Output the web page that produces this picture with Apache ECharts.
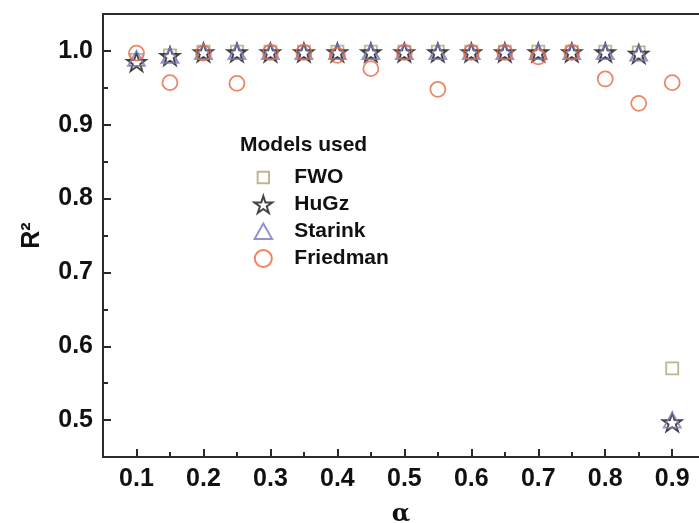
<!DOCTYPE html>
<html>
<head>
<meta charset="utf-8">
<script src="https://cdn.jsdelivr.net/npm/echarts@6/dist/echarts.min.js"></script>
<style>
html,body{margin:0;padding:0;background:#fff;}
#c{width:699px;height:523px;}
</style>
</head>
<body>
<div id="c"></div>
<script>
// ---- data ----
const alpha = [0.1, 0.15, 0.2, 0.25, 0.3, 0.35, 0.4, 0.45, 0.5, 0.55, 0.6, 0.65, 0.7, 0.75, 0.8, 0.85, 0.9];
const fwo      = [0.988, 0.994, 0.999, 0.999, 0.999, 0.999, 0.999, 0.999, 0.999, 0.999, 0.999, 0.999, 0.999, 0.999, 0.999, 0.998, 0.570];
const hugz     = [0.985, 0.993, 0.998, 0.998, 0.998, 0.998, 0.998, 0.998, 0.998, 0.998, 0.998, 0.998, 0.998, 0.998, 0.998, 0.996, 0.497];
const starink  = [0.990, 0.994, 0.999, 0.999, 0.999, 0.999, 0.999, 0.999, 0.999, 0.999, 0.999, 0.999, 0.999, 0.999, 0.999, 0.997, 0.500];
const friedman = [0.997, 0.957, 0.997, 0.956, 0.998, 0.998, 0.994, 0.976, 0.998, 0.948, 0.998, 0.998, 0.992, 0.998, 0.962, 0.929, 0.957];
const seriesNames = ['FWO', 'HuGz', 'Starink', 'Friedman'];
const xMajor = [0.1, 0.2, 0.3, 0.4, 0.5, 0.6, 0.7, 0.8, 0.9];
const xMinor = [0.15, 0.25, 0.35, 0.45, 0.55, 0.65, 0.75, 0.85];
const yMajor = [0.5, 0.6, 0.7, 0.8, 0.9, 1.0];
const yMinor = [0.55, 0.65, 0.75, 0.85, 0.95];
const legendTitle = 'Models used';
const xName = 'α';
const yName = 'R²';

// ---- styling ----
const FONT = 'Liberation Sans, Arial, sans-serif';
const AX = '#2a2a2a';
const STAR = 'path://M50,0 L61.2,34.5 L97.6,34.5 L68.2,55.9 L79.4,90.5 L50,69.1 L20.6,90.5 L31.8,55.9 L2.4,34.5 L38.8,34.5 Z';
const SQUARE_ICON = 'path://M-3,-3 M0,0 L12,0 L12,12 L0,12 Z M15,15';
const TRI_ICON = 'path://M-0.5,-0.5 M8,0 L16,14 L0,14 Z M16.5,15';
const zip = arr => alpha.map((a, i) => [a, arr[i]]);
const clear = 'rgba(0,0,0,0)';

const gridPos = {left: 103, top: 14, right: 0, bottom: 66, outerBoundsMode: 'none'};
const xBase = {type: 'value', min: 0.05, max: 0.94, splitLine: {show: false}};
const yBase = {type: 'value', min: 0.45, max: 1.05, splitLine: {show: false}};

const chart = echarts.init(document.getElementById('c'), null, {renderer: 'canvas'});
chart.setOption({
  backgroundColor: '#fff',
  animation: false,
  title: {
    text: legendTitle, left: 235, top: 130,
    textStyle: {fontFamily: FONT, fontWeight: 'bold', fontSize: 21, color: '#111'}
  },
  legend: {
    orient: 'vertical', left: 248, top: 162,
    itemWidth: 52, itemHeight: 17, itemGap: 6,
    data: [
      {name: seriesNames[0], icon: SQUARE_ICON},
      {name: seriesNames[1]},
      {name: seriesNames[2], icon: TRI_ICON},
      {name: seriesNames[3]}
    ],
    textStyle: {fontFamily: FONT, fontWeight: 'bold', fontSize: 21, lineHeight: 21, color: '#111'}
  },
  grid: [
    Object.assign({show: false}, gridPos),
    Object.assign({show: false}, gridPos)
  ],
  xAxis: [
    Object.assign({}, xBase, {
      gridIndex: 0, position: 'bottom',
      name: xName, nameLocation: 'middle', nameGap: 46,
      nameTextStyle: {fontFamily: 'DejaVu Serif, serif', fontWeight: 'bold', fontSize: 24, color: '#111'},
      axisLine: {show: true, onZero: false, lineStyle: {color: AX, width: 2}},
      axisTick: {show: true, inside: true, length: 8, lineStyle: {color: AX, width: 2}, customValues: xMajor},
      axisLabel: {customValues: xMajor, margin: 10, fontFamily: FONT, fontWeight: 'bold', fontSize: 25, color: '#111',
                  formatter: v => v.toFixed(1)}
    }),
    Object.assign({}, xBase, {
      gridIndex: 1, position: 'bottom',
      axisLine: {show: false, onZero: false},
      axisTick: {show: true, inside: true, length: 5, lineStyle: {color: AX, width: 2}, customValues: xMinor},
      axisLabel: {show: false}
    }),
    Object.assign({}, xBase, {
      gridIndex: 0, position: 'top',
      axisLine: {show: true, onZero: false, lineStyle: {color: AX, width: 2}},
      axisTick: {show: false},
      axisLabel: {show: false}
    })
  ],
  yAxis: [
    Object.assign({}, yBase, {
      gridIndex: 0, position: 'left',
      name: yName, nameLocation: 'middle', nameGap: 58, nameRotate: 90,
      nameTextStyle: {fontFamily: FONT, fontWeight: 'bold', fontSize: 25, color: '#111'},
      axisLine: {show: true, onZero: false, lineStyle: {color: AX, width: 2}},
      axisTick: {show: true, inside: true, length: 8, lineStyle: {color: AX, width: 2}, customValues: yMajor},
      axisLabel: {customValues: yMajor, margin: 10, fontFamily: FONT, fontWeight: 'bold', fontSize: 25, color: '#111',
                  formatter: v => v.toFixed(1)}
    }),
    Object.assign({}, yBase, {
      gridIndex: 1, position: 'left',
      axisLine: {show: false, onZero: false},
      axisTick: {show: true, inside: true, length: 5, lineStyle: {color: AX, width: 2}, customValues: yMinor},
      axisLabel: {show: false}
    })
  ],
  series: [
    {name: seriesNames[0], type: 'scatter', xAxisIndex: 0, yAxisIndex: 0, data: zip(fwo),
     symbol: 'rect', symbolSize: 12, symbolKeepAspect: true,
     itemStyle: {color: clear, borderColor: '#aea278', borderWidth: 1.8}},
    {name: seriesNames[1], type: 'scatter', xAxisIndex: 0, yAxisIndex: 0, data: zip(hugz),
     symbol: STAR, symbolSize: 19, symbolKeepAspect: true,
     itemStyle: {color: clear, borderColor: '#151515', borderWidth: 1.8}},
    {name: seriesNames[2], type: 'scatter', xAxisIndex: 0, yAxisIndex: 0, data: zip(starink),
     symbol: 'triangle', symbolSize: [17, 15], symbolKeepAspect: true,
     itemStyle: {color: clear, borderColor: '#7b78c2', borderWidth: 1.8}},
    {name: seriesNames[3], type: 'scatter', xAxisIndex: 0, yAxisIndex: 0, data: zip(friedman),
     symbol: 'circle', symbolSize: 15, symbolKeepAspect: true,
     itemStyle: {color: clear, borderColor: '#e8683f', borderWidth: 1.8}}
  ]
});
</script>
</body>
</html>
